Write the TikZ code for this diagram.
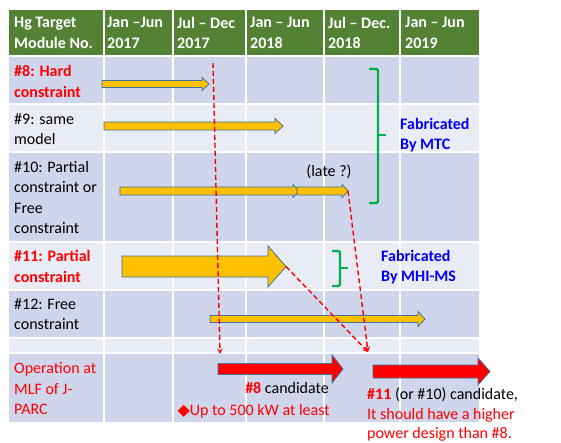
\documentclass[tikz,border=0pt]{standalone}
\usepackage{fontspec}
\setmainfont{Carlito}
\newfontfamily\symfont{DejaVu Sans}
\usetikzlibrary{arrows}
\definecolor{hdrgreen}{HTML}{548235}
\definecolor{rowdark}{HTML}{CFD5EA}
\definecolor{rowlight}{HTML}{E9EBF5}
\definecolor{baryellow}{HTML}{FFC000}
\definecolor{barline}{HTML}{41719C}
\definecolor{bracegreen}{HTML}{00B050}
\definecolor{fabblue}{HTML}{0000FF}
\tikzstyle{cell} = [anchor=north west, inner sep=0pt, align=left, font=\fontsize{16}{20.5}\selectfont]
\tikzstyle{head} = [cell, text=white, font=\fontsize{16}{20.5}\selectfont\bfseries]
\tikzstyle{hot} = [cell, text=red, font=\fontsize{16}{20.5}\selectfont\bfseries]
\tikzstyle{fab} = [cell, text=fabblue, font=\fontsize{16}{20.5}\selectfont\bfseries]
\tikzstyle{note} = [inner sep=0pt, font=\fontsize{16}{20.5}\selectfont]
\tikzstyle{bar} = [fill=baryellow, draw=barline, line width=0.8pt]
\tikzstyle{redbar} = [fill=red, draw=barline, line width=0.8pt]
\tikzstyle{trace} = [red, line width=1.4pt, dash pattern=on 5pt off 3pt, ->, >=stealth]
\tikzstyle{brace} = [bracegreen, line width=2.4pt, rounded corners=2pt]

% block arrow: name, from x, to x, y, half shaft, half head, head length, style
\newcommand{\bararrow}[8]{%
  \draw[#8] (#2,{#4-#5}) -- ({#3-#7},{#4-#5}) -- ({#3-#7},{#4-#6}) -- (#3,#4)
    -- ({#3-#7},{#4+#6}) -- ({#3-#7},{#4+#5}) -- (#2,{#4+#5}) -- cycle;
  \coordinate (#1) at (#3,#4);}

\begin{document}
\begin{tikzpicture}[x=1pt, y=-1pt]
\useasboundingbox (0,0) rectangle (561,443);

% table background
\fill[hdrgreen] (9,10) rectangle (479,56);
\fill[rowdark] (9,56) rectangle (479,104);
\fill[rowlight] (9,104) rectangle (479,152);
\fill[rowdark] (9,152) rectangle (479,242);
\fill[rowlight] (9,242) rectangle (479,290);
\fill[rowdark] (9,290) rectangle (479,338);
\fill[rowlight] (9,338) rectangle (479,353);
\fill[rowdark] (9,353) rectangle (479,422);
\draw[white, line width=1.5pt] (104,10) -- (104,422) (173,10) -- (173,422)
  (246,10) -- (246,422) (324,10) -- (324,422) (400,10) -- (400,422);
\draw[white, line width=1.5pt] (9,56) -- (479,56) (9,104) -- (479,104)
  (9,152) -- (479,152) (9,242) -- (479,242) (9,290) -- (479,290)
  (9,338) -- (479,338) (9,353) -- (479,353);

% header
\node(hg) [head] at (14,17) {Hg Target\\Module No.};
\node(h1) [head] at (107,17) {Jan –Jun\\2017};
\node(h2) [head] at (177,17) {Jul – Dec\\2017};
\node(h3) [head] at (250,17) {Jan – Jun\\2018};
\node(h4) [head] at (328,17) {Jul – Dec.\\2018};
\node(h5) [head] at (405,17) {Jan – Jun\\2019};

% modules
\node(m8) [hot] at (14,65.5) {\#8: Hard\\constraint};
\node(m9) [cell] at (14,113) {\#9: same\\model};
\node(m10) [cell] at (14,161) {\#10: Partial\\constraint or\\Free\\constraint};
\node(m11) [hot] at (14,250.5) {\#11: Partial\\constraint};
\node(m12) [cell] at (14,298) {\#12: Free\\constraint};
\node(op) [cell, text=red] at (14,362.5) {Operation at\\MLF of J-\\PARC};

% schedule bars
\bararrow{a8}{102}{209}{84}{3.5}{6.5}{7}{bar}
\bararrow{a9}{104}{283}{126}{4}{7.5}{8}{bar}
\bararrow{a10}{120}{299}{191}{4}{6.5}{6}{bar}
\bararrow{a10late}{297}{348}{191}{4}{6.5}{6}{bar}
\bararrow{a11}{122}{286}{266.5}{10.5}{20.5}{18}{bar}
\bararrow{a12}{210}{425}{319}{3.5}{7.5}{7}{bar}
\bararrow{r8}{218}{343}{369}{5.5}{14}{11}{redbar}
\bararrow{r11}{373}{490}{371.5}{6.5}{13.5}{12}{redbar}

\node(late) [note, anchor=base] at (329,177) {(late ?)};

% fabrication groups
\draw [brace] (369,69) -- (378,69) -- (378,135) -- (378,203) -- (369,203);
\draw [brace] (378,135) -- (386,135);
\draw [brace] (332,251) -- (340,251) -- (340,268) -- (340,286) -- (332,286);
\draw [brace] (340,268) -- (348,268);
\node(mtc) [fab] at (400,118) {Fabricated\\By MTC};
\node(mhi) [fab] at (381,250) {Fabricated\\By MHI-MS};

% operation notes
\node(c8) [note, anchor=base east] at (329,393.5) {\textcolor{red}{\textbf{\#8}} candidate};
\node(p8) [note, anchor=base east, text=red] at (330,415) {{\symfont ◆}Up to 500 kW at least};
\node(c11) [note, anchor=base west] at (367,399) {\textcolor{red}{\textbf{\#11}} (or \#10) candidate,};
\node(w11) [note, anchor=base west, text=red] at (367,419) {It should have a higher};
\node(w11b) [note, anchor=base west, text=red] at (367,438.5) {power design than \#8.};

% shifts to operation
\coordinate (s8) at (213,63);
\coordinate (e8) at (220,354);
\coordinate (e11) at (368,352);
\draw [trace] (s8) -- (e8);
\draw [trace] (a10late) -- (e11);
\draw [trace] (a11) -- (e11);

\end{tikzpicture}
\end{document}
